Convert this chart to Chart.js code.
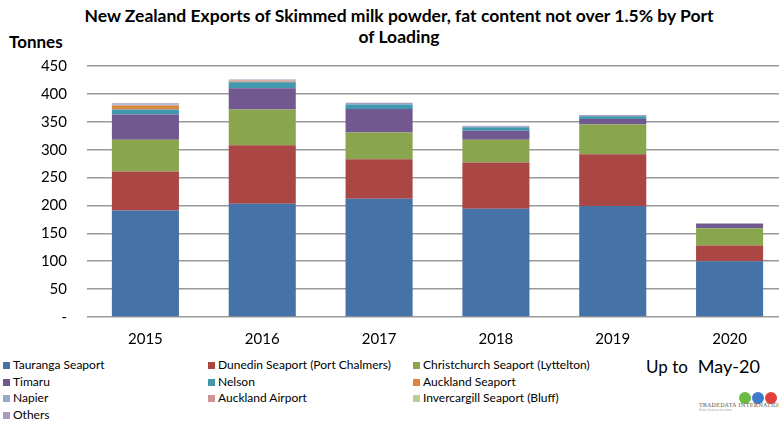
<!DOCTYPE html>
<html lang="en">
<head>
    <meta charset="UTF-8">
    <title>NZ Exports of Skimmed milk powder by Port of Loading</title>
    <style>
        body {
            margin: 0;
            width: 779px;
            height: 421px;
            overflow: hidden;
            background: #fff;
            font-family: Lato, "Noto Sans", sans-serif;
            position: relative;
        }
        #title {
            position: absolute;
            left: 78px;
            width: 642px;
            top: 5px;
            text-align: center;
            font-weight: bold;
            font-size: 17.5px;
            line-height: 21px;
            color: #000;
        }
        #unit {
            position: absolute;
            left: 9px;
            top: 31px;
            font-weight: bold;
            font-size: 17px;
        }
        #chartBox {
            position: absolute;
            left: 0;
            top: 0;
            width: 788px;
            height: 352px;
        }
        #legend {
            position: absolute;
            left: 3px;
            top: 357px;
            display: grid;
            grid-template-columns: 205px 205px 200px;
            row-gap: 0;
            font-size: 12px;
            line-height: 16.5px;
            color: #000;
        }
        #legend span.box {
            display: inline-block;
            width: 7px;
            height: 7px;
            margin-right: 3px;
            vertical-align: 0;
        }
        #upto {
            position: absolute;
            left: 646px;
            top: 355px;
            font-size: 17px;
        }
        #upto b {
            font-weight: normal;
            margin-left: 10px;
            font-size: 18px;
        }
        #logo {
            position: absolute;
            left: 699px;
            top: 388px;
            width: 82px;
        }
        #logo .globes {
            margin-left: 40px;
            height: 14px;
        }
        #logo .globes i {
            display: inline-block;
            width: 12px;
            height: 12px;
            border-radius: 50%;
            margin-right: 1px;
        }
        #logo .name {
            font-family: "DejaVu Serif", serif;
            font-size: 5.5px;
            color: #555;
            letter-spacing: 0.2px;
            white-space: nowrap;
        }
        #logo .tag {
            font-size: 3px;
            color: #aaa;
        }
    </style>
    <script src="https://cdn.jsdelivr.net/npm/chart.js"></script>
</head>
<body>
    <div id="title">New Zealand Exports of Skimmed milk powder, fat content not over 1.5% by Port<br>of Loading</div>
    <div id="unit">Tonnes</div>
    <div id="chartBox"><canvas id="portChart"></canvas></div>
    <div id="legend"></div>
    <div id="upto">Up to<b>May-20</b></div>
    <div id="logo">
        <div class="globes"><i style="background:#6cbb45"></i><i style="background:#3d7cc9"></i><i style="background:#e0413a"></i></div>
        <div class="name">TRADEDATA INTERNATIONAL</div>
        <div class="tag">Better business decisions</div>
    </div>

    <script>
        // Tonnes by port, one array per port (bottom of stack first)
        const years = ["2015", "2016", "2017", "2018", "2019", "2020"];
        const yTicks = [0, 50, 100, 150, 200, 250, 300, 350, 400, 450];

        const tauranga     = [191, 203, 212, 194, 199, 100];
        const dunedin      = [70, 105, 71, 83, 93, 28];
        const christchurch = [57, 64, 48, 41, 53, 31];
        const timaru       = [45, 38, 42, 16, 10, 8];
        const nelson       = [9, 11, 8, 6, 5, 0];
        const aklSeaport   = [7, 1, 0, 0, 0, 0];
        const napier       = [2, 1, 1, 1, 0, 0];
        const aklAirport   = [0, 1, 0, 0, 0, 0];
        const invercargill = [0, 0, 0, 0, 0, 0];
        const others       = [2, 2, 2, 2, 2, 1];

        const ports = [
            { label: "Tauranga Seaport", data: tauranga, color: "#4572A7" },
            { label: "Dunedin Seaport (Port Chalmers)", data: dunedin, color: "#AA4643" },
            { label: "Christchurch Seaport (Lyttelton)", data: christchurch, color: "#89A54E" },
            { label: "Timaru", data: timaru, color: "#71588F" },
            { label: "Nelson", data: nelson, color: "#4198AF" },
            { label: "Auckland Seaport", data: aklSeaport, color: "#DB843D" },
            { label: "Napier", data: napier, color: "#93A9CF" },
            { label: "Auckland Airport", data: aklAirport, color: "#D19392" },
            { label: "Invercargill Seaport (Bluff)", data: invercargill, color: "#B9CD96" },
            { label: "Others", data: others, color: "#A99BBD" }
        ];

        // legend laid out as a 3 column grid like the original
        const legend = document.getElementById('legend');
        ports.forEach(p => {
            const item = document.createElement('div');
            item.innerHTML = `<span class="box" style="background:${p.color}"></span>${p.label}`;
            legend.appendChild(item);
        });

        const ctx = document.getElementById('portChart').getContext('2d');
        new Chart(ctx, {
            type: 'bar',
            data: {
                labels: years,
                datasets: ports.map(p => ({
                    label: p.label,
                    data: p.data,
                    backgroundColor: p.color,
                    borderWidth: 0,
                    barPercentage: 0.574,
                    categoryPercentage: 1
                }))
            },
            options: {
                responsive: true,
                maintainAspectRatio: false,
                animation: false,
                layout: { padding: { top: 66, right: 0, bottom: 0, left: 0 } },
                plugins: {
                    legend: { display: false },
                    tooltip: { enabled: false }
                },
                scales: {
                    x: {
                        stacked: true,
                        grid: { display: false, drawTicks: false },
                        border: { display: false },
                        ticks: {
                            color: '#000',
                            padding: 13,
                            font: { family: 'Lato', size: 15 }
                        },
                        afterFit: scale => { scale.height = 35; }
                    },
                    y: {
                        stacked: true,
                        min: 0,
                        max: 450,
                        afterBuildTicks: scale => {
                            scale.ticks = yTicks.map(v => ({ value: v }));
                        },
                        grid: { color: '#999', lineWidth: 1.6, drawTicks: false },
                        border: { display: false },
                        ticks: {
                            color: '#000',
                            padding: 20,
                            font: { family: 'Lato', size: 15 },
                            callback: v => v === 0 ? '-' : v
                        },
                        afterFit: scale => { scale.width = 87; }
                    }
                }
            }
        });
    </script>
</body>
</html>
